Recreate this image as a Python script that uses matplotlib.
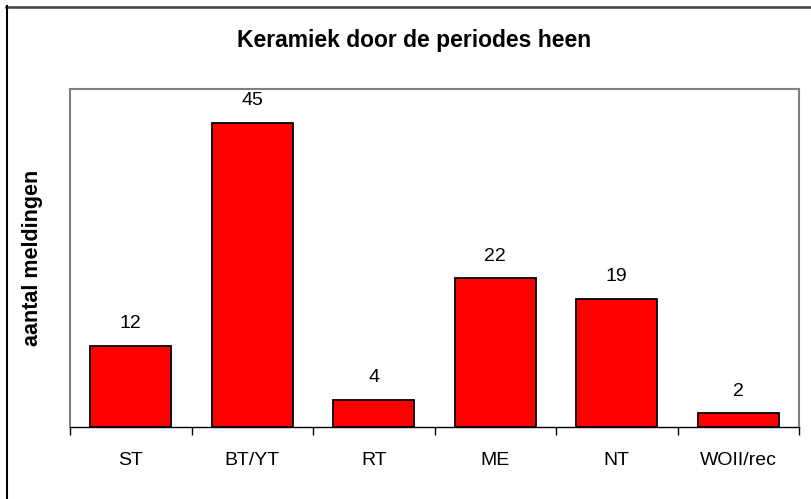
import matplotlib.pyplot as plt
from matplotlib.lines import Line2D

# data
periods = ["ST", "BT/YT", "RT", "ME", "NT", "WOII/rec"]
counts = [12, 45, 4, 22, 19, 2]

plt.rcParams['font.family'] = ['Liberation Sans', 'DejaVu Sans']

W, H = 811, 499
fig = plt.figure(figsize=(W / 100, H / 100), dpi=100)

# chart border: only top and left edges fall inside the picture
fig.lines.append(Line2D([6 / W, 1], [1 - 6.5 / H, 1 - 6.5 / H], transform=fig.transFigure,
                        color="#404040", linewidth=1.8))
fig.lines.append(Line2D([6.5 / W, 6.5 / W], [0, 1 - 6 / H], transform=fig.transFigure,
                        color="black", linewidth=1.5))

ax = fig.add_axes([70 / W, 1 - 427 / H, 729 / W, 338 / H])
x = range(len(periods))
ax.bar(x, counts, width=0.67, color="#FF0000", edgecolor="black", linewidth=1.3, zorder=3)

for xi, c in zip(x, counts):
    ax.text(xi, c + 2.0, str(c), ha="center", va="bottom", fontsize=14)

ax.set_xlim(-0.5, len(periods) - 0.5)
ax.set_ylim(0, 50)
ax.set_yticks([])

# category labels centred, ticks on boundaries
ax.set_xticks(list(x))
ax.set_xticklabels(periods, fontsize=14)
ax.tick_params(axis="x", length=0, pad=18)
ax.set_xticks([i - 0.5 for i in range(len(periods) + 1)], minor=True)
ax.tick_params(axis="x", which="minor", length=6, width=1, color="black", direction="out")

for side in ["top", "left", "right"]:
    ax.spines[side].set_color("#808080")
    ax.spines[side].set_linewidth(1.5)
ax.spines["bottom"].set_color("black")
ax.spines["bottom"].set_linewidth(1.0)

fig.text(33 / W, 1 - 258 / H, "aantal meldingen", ha="center", va="center", rotation=90,
         fontsize=15.5, fontweight="bold")
fig.text(414 / W, 1 - 40 / H, "Keramiek door de periodes heen", ha="center", va="center",
         fontsize=16.5, fontweight="bold")

fig.savefig("out.png", dpi=100)
